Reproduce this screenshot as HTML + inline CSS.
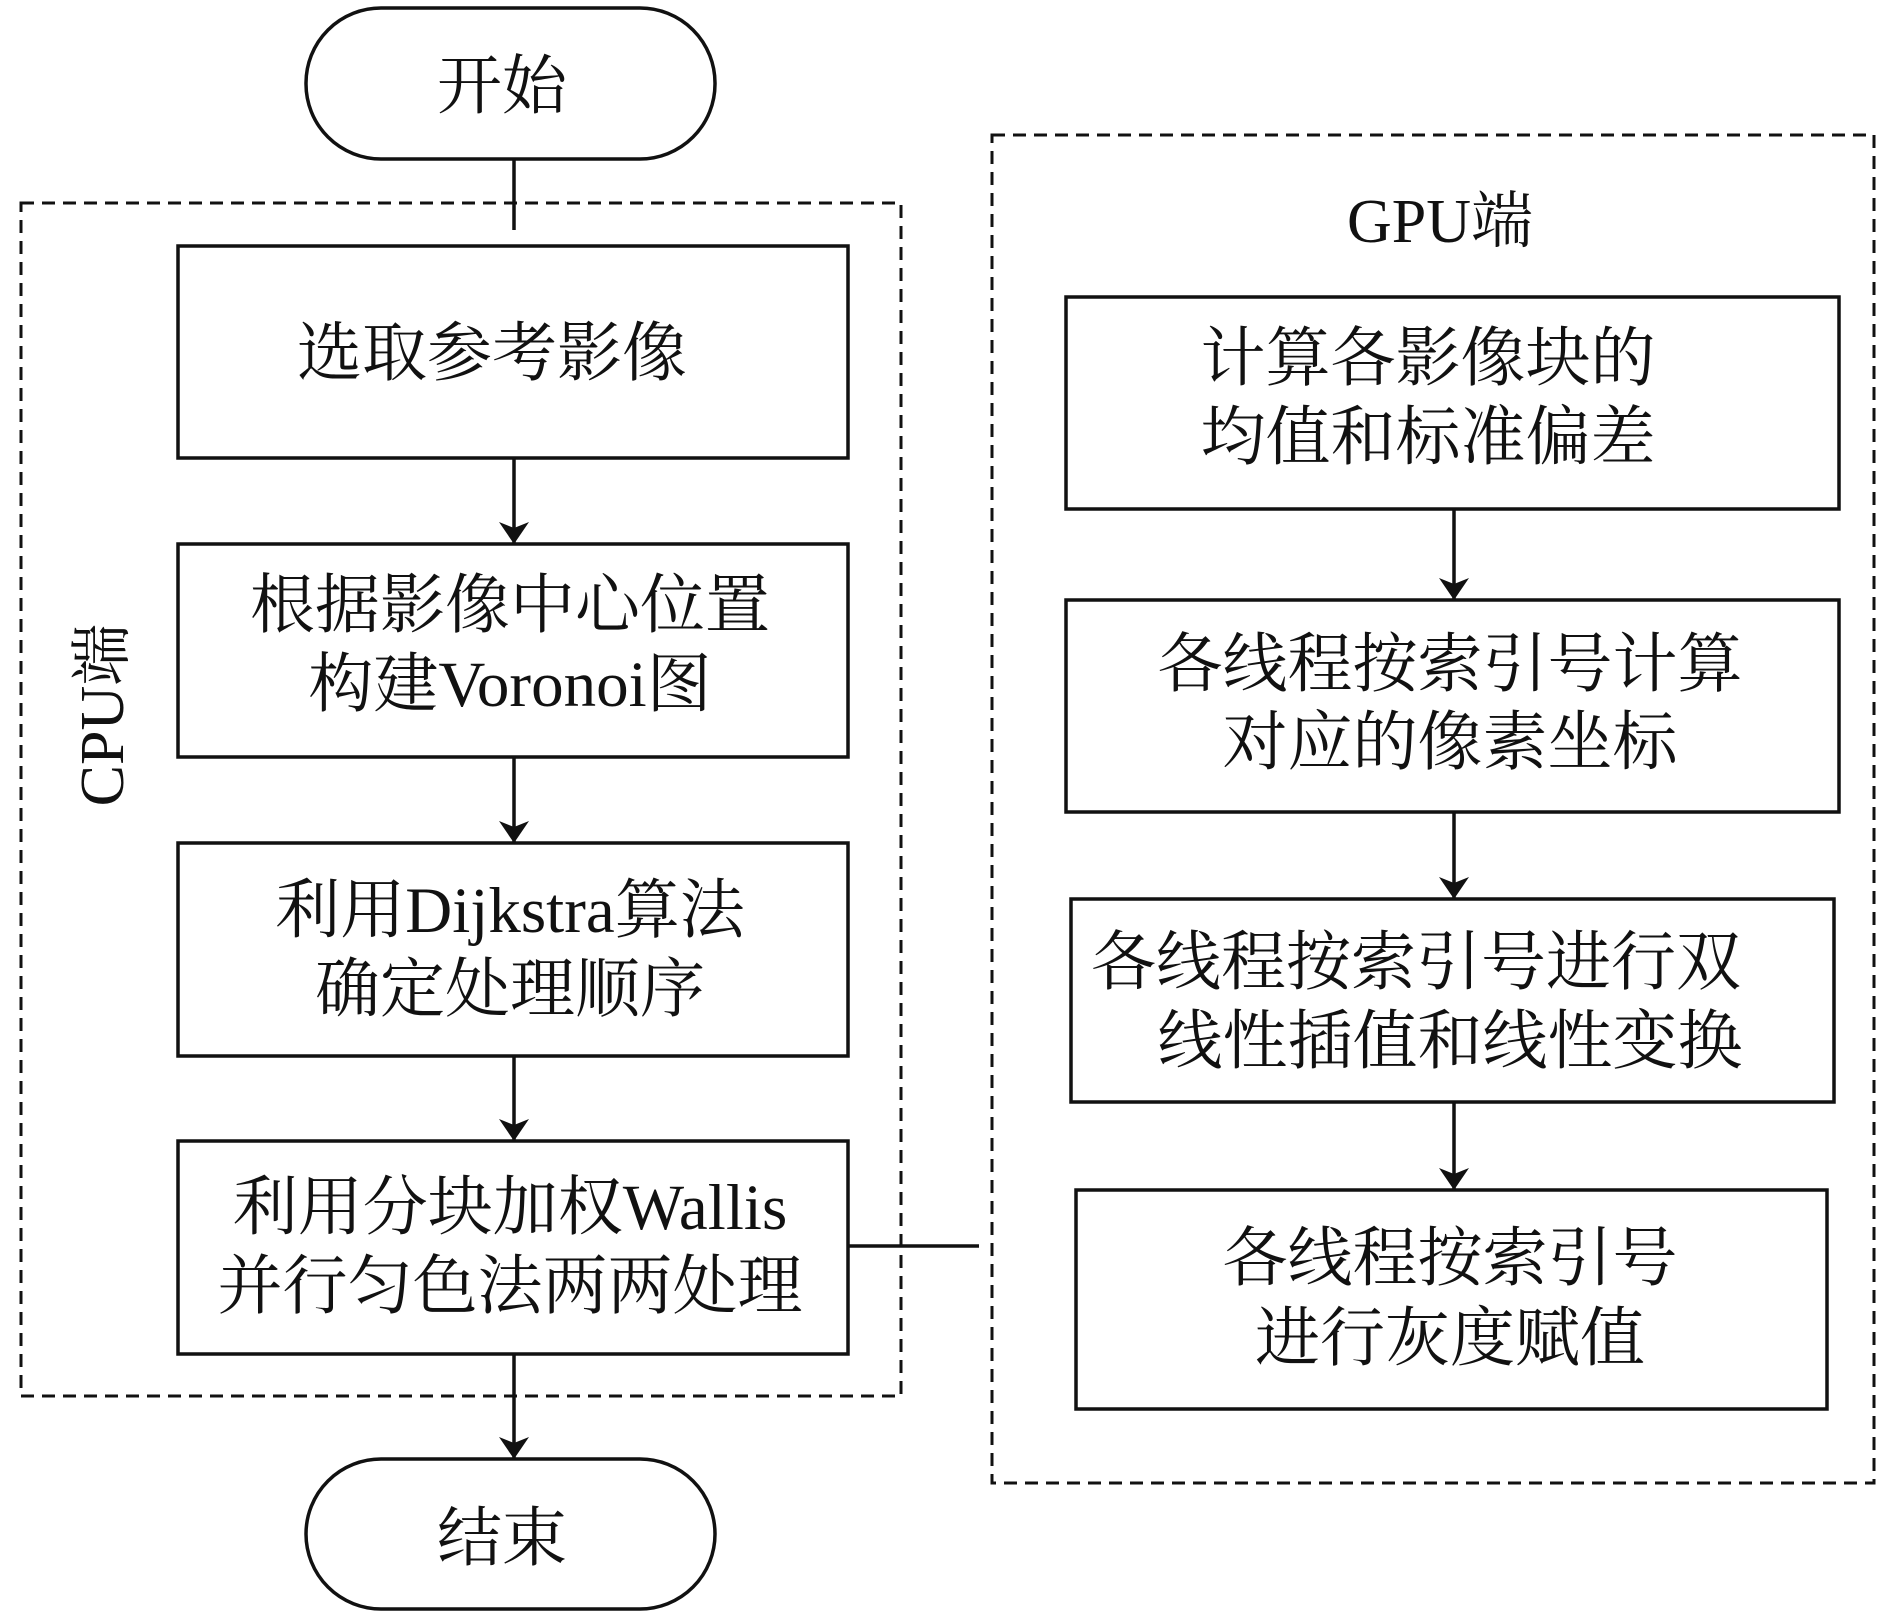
<!DOCTYPE html>
<html><head><meta charset="utf-8"><style>
html,body{margin:0;padding:0;background:#fff;}
svg text{font-family:"Liberation Serif","Noto Serif CJK SC","Noto Sans CJK SC",serif;fill:#111;}
</style></head><body>
<svg width="1890" height="1611" viewBox="0 0 1890 1611" xmlns="http://www.w3.org/2000/svg">
<defs>
<marker id="b" viewBox="0 0 22 30" refX="22" refY="15" markerWidth="22" markerHeight="30" orient="auto" markerUnits="userSpaceOnUse"><path d="M0,0 L22,15 L0,30 L6,15 Z" fill="#111"/></marker></defs>
<g fill="none" stroke="#111" stroke-width="3" stroke-dasharray="13,8">
<rect x="21" y="203" width="880" height="1193"/>
<rect x="992" y="135" width="882" height="1348"/>
</g>
<g fill="#fff" stroke="#111" stroke-width="3.5">
<rect x="306" y="8" width="409" height="151" rx="75"/>
<rect x="306" y="1459" width="409" height="150" rx="75"/>
<rect x="178" y="246" width="670" height="212"/>
<rect x="178" y="544" width="670" height="213"/>
<rect x="178" y="843" width="670" height="213"/>
<rect x="178" y="1141" width="670" height="213"/>
<rect x="1066" y="297" width="773" height="212"/>
<rect x="1066" y="600" width="773" height="212"/>
<rect x="1071" y="899" width="763" height="203"/>
<rect x="1076" y="1190" width="751" height="219"/>
</g>
<g stroke="#111" stroke-width="3.5" fill="none">
<line x1="514" y1="159" x2="514" y2="230"/>
<line x1="514" y1="458" x2="514" y2="544" marker-end="url(#b)"/>
<line x1="514" y1="757" x2="514" y2="843" marker-end="url(#b)"/>
<line x1="514" y1="1056" x2="514" y2="1141" marker-end="url(#b)"/>
<line x1="514" y1="1354" x2="514" y2="1459" marker-end="url(#b)"/>
<line x1="848" y1="1246" x2="979" y2="1246"/>
<line x1="1454" y1="509" x2="1454" y2="600" marker-end="url(#b)"/>
<line x1="1454" y1="812" x2="1454" y2="899" marker-end="url(#b)"/>
<line x1="1454" y1="1102" x2="1454" y2="1190" marker-end="url(#b)"/>
</g>
<g font-size="65" text-anchor="middle">
<text x="502" y="108">开始</text>
<text x="502" y="1560">结束</text>
<text x="492" y="375">选取参考影像</text>
<text x="510" y="627">根据影像中心位置</text>
<text x="510" y="706">构建Voronoi图</text>
<text x="510" y="932">利用Dijkstra算法</text>
<text x="510" y="1011">确定处理顺序</text>
<text x="510" y="1229">利用分块加权Wallis</text>
<text x="510" y="1308">并行匀色法两两处理</text>
<text x="1440" y="242" font-size="62">GPU端</text>
<text x="1428" y="380">计算各影像块的</text>
<text x="1428" y="459">均值和标准偏差</text>
<text x="1450" y="686">各线程按索引号计算</text>
<text x="1450" y="764">对应的像素坐标</text>
<text x="1416" y="984">各线程按索引号进行双</text>
<text x="1450" y="1063">线性插值和线性变换</text>
<text x="1450" y="1280">各线程按索引号</text>
<text x="1450" y="1360">进行灰度赋值</text>
</g>
<text x="0" y="0" font-size="62" text-anchor="middle" transform="translate(123,715) rotate(-90)">CPU端</text>
</svg>
</body></html>
